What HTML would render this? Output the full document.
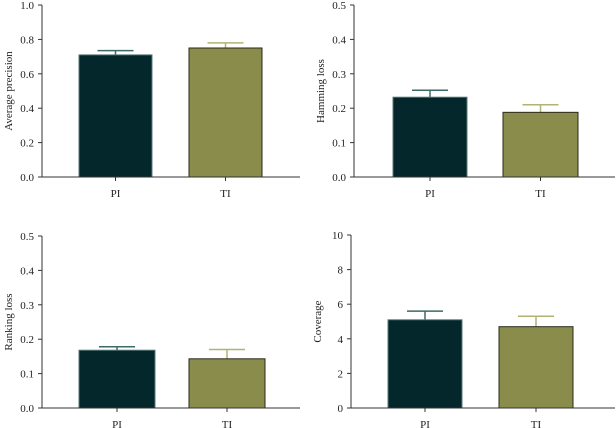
<!DOCTYPE html>
<html><head><meta charset="utf-8"><style>
body{margin:0;background:#fff;}
svg{display:block;font-family:"Liberation Serif",serif;}
</style></head><body>
<svg id="chart" width="616" height="428"></svg>
<script>
const categories = ["PI", "TI"];
const apValues = [0.71, 0.75];
const apErrors = [0.025, 0.03];
const hlValues = [0.232, 0.188];
const hlErrors = [0.02, 0.022];
const rlValues = [0.168, 0.143];
const rlErrors = [0.01, 0.027];
const cvValues = [5.1, 4.7];
const cvErrors = [0.5, 0.6];
const apTicks = ["0.0","0.2","0.4","0.6","0.8","1.0"];
const lossTicks = ["0.0","0.1","0.2","0.3","0.4","0.5"];
const cvTicks = ["0","2","4","6","8","10"];

const fills = ["#03272a", "#8a8c4c"];
const errCols = ["#3d6a66", "#b0b374"];
const NS = "http://www.w3.org/2000/svg";
const svg = document.getElementById("chart");
function mk(tag, attrs, parent){const e=document.createElementNS(NS,tag);for(const k in attrs)e.setAttribute(k,attrs[k]);(parent||svg).appendChild(e);return e;}

const panels = [
 {name:"average-precision",title:"Average precision",vals:apValues,errs:apErrors,ticks:apTicks,max:1,ax:42,top:5,bot:177,xend:300,bars:[[79,152],[189,262]]},
 {name:"hamming-loss",title:"Hamming loss",vals:hlValues,errs:hlErrors,ticks:lossTicks,max:0.5,ax:354,top:5,bot:177,xend:615,bars:[[393,467],[503,578]]},
 {name:"ranking-loss",title:"Ranking loss",vals:rlValues,errs:rlErrors,ticks:lossTicks,max:0.5,ax:42,top:236,bot:408,xend:300,bars:[[79,155],[189,265]]},
 {name:"coverage",title:"Coverage",vals:cvValues,errs:cvErrors,ticks:cvTicks,max:10,ax:351,top:235,bot:408,xend:615,bars:[[388,462],[499,573]]}
];

panels.forEach(p=>{
  const g = mk("g",{});
  
  
  const y = v => p.bot - v/p.max*(p.bot-p.top);
  // bars
  p.vals.forEach((v,i)=>{
    const [x0,x1]=p.bars[i];
    const e = p.vals[i]+p.errs[i];
    const eb = mk("line",{x1:(x0+x1)/2,x2:(x0+x1)/2,y1:y(v),y2:y(e),stroke:errCols[i],"stroke-width":1.5},g);
    
    
    const cap = mk("line",{x1:(x0+x1)/2-18,x2:(x0+x1)/2+18,y1:y(e),y2:y(e),stroke:errCols[i],"stroke-width":1.5},g);
    
    
    const r = mk("rect",{x:x0,y:y(v),width:x1-x0,height:p.bot-y(v),fill:fills[i],stroke:i?"#2a2a1a":"#5a7a78","stroke-width":1},g);
    
    
    const t = mk("text",{x:(x0+x1)/2,y:p.bot+20,"text-anchor":"middle","font-size":11,fill:"#222"},g);
    t.textContent = categories[i];
    
    
  });
  // axes
  const ya = mk("line",{x1:p.ax,x2:p.ax,y1:p.top,y2:p.bot,stroke:"#333","stroke-width":1},g);
  
  
  const xa = mk("line",{x1:p.ax-4,x2:p.xend,y1:p.bot,y2:p.bot,stroke:"#333","stroke-width":1},g);
  
  
  p.bars.forEach(b=>{mk("line",{x1:(b[0]+b[1])/2,x2:(b[0]+b[1])/2,y1:p.bot,y2:p.bot+4,stroke:"#333"},g);});
  p.ticks.forEach((tk,i)=>{
    const v = i*p.max/(p.ticks.length-1);
    mk("line",{x1:p.ax-4,x2:p.ax,y1:y(v),y2:y(v),stroke:"#333"},g);
    const t = mk("text",{x:p.ax-8,y:y(v)+4,"text-anchor":"end","font-size":11,fill:"#222"},g);
    t.textContent = tk;
    
    
  });
  const cy=(p.top+p.bot)/2;
  const tl = mk("text",{x:p.ax-30,y:cy,"text-anchor":"middle","font-size":11,fill:"#222",transform:`rotate(-90 ${p.ax-30} ${cy})`},g);
  tl.textContent = p.title;
  
  
});
</script>
</body></html>
